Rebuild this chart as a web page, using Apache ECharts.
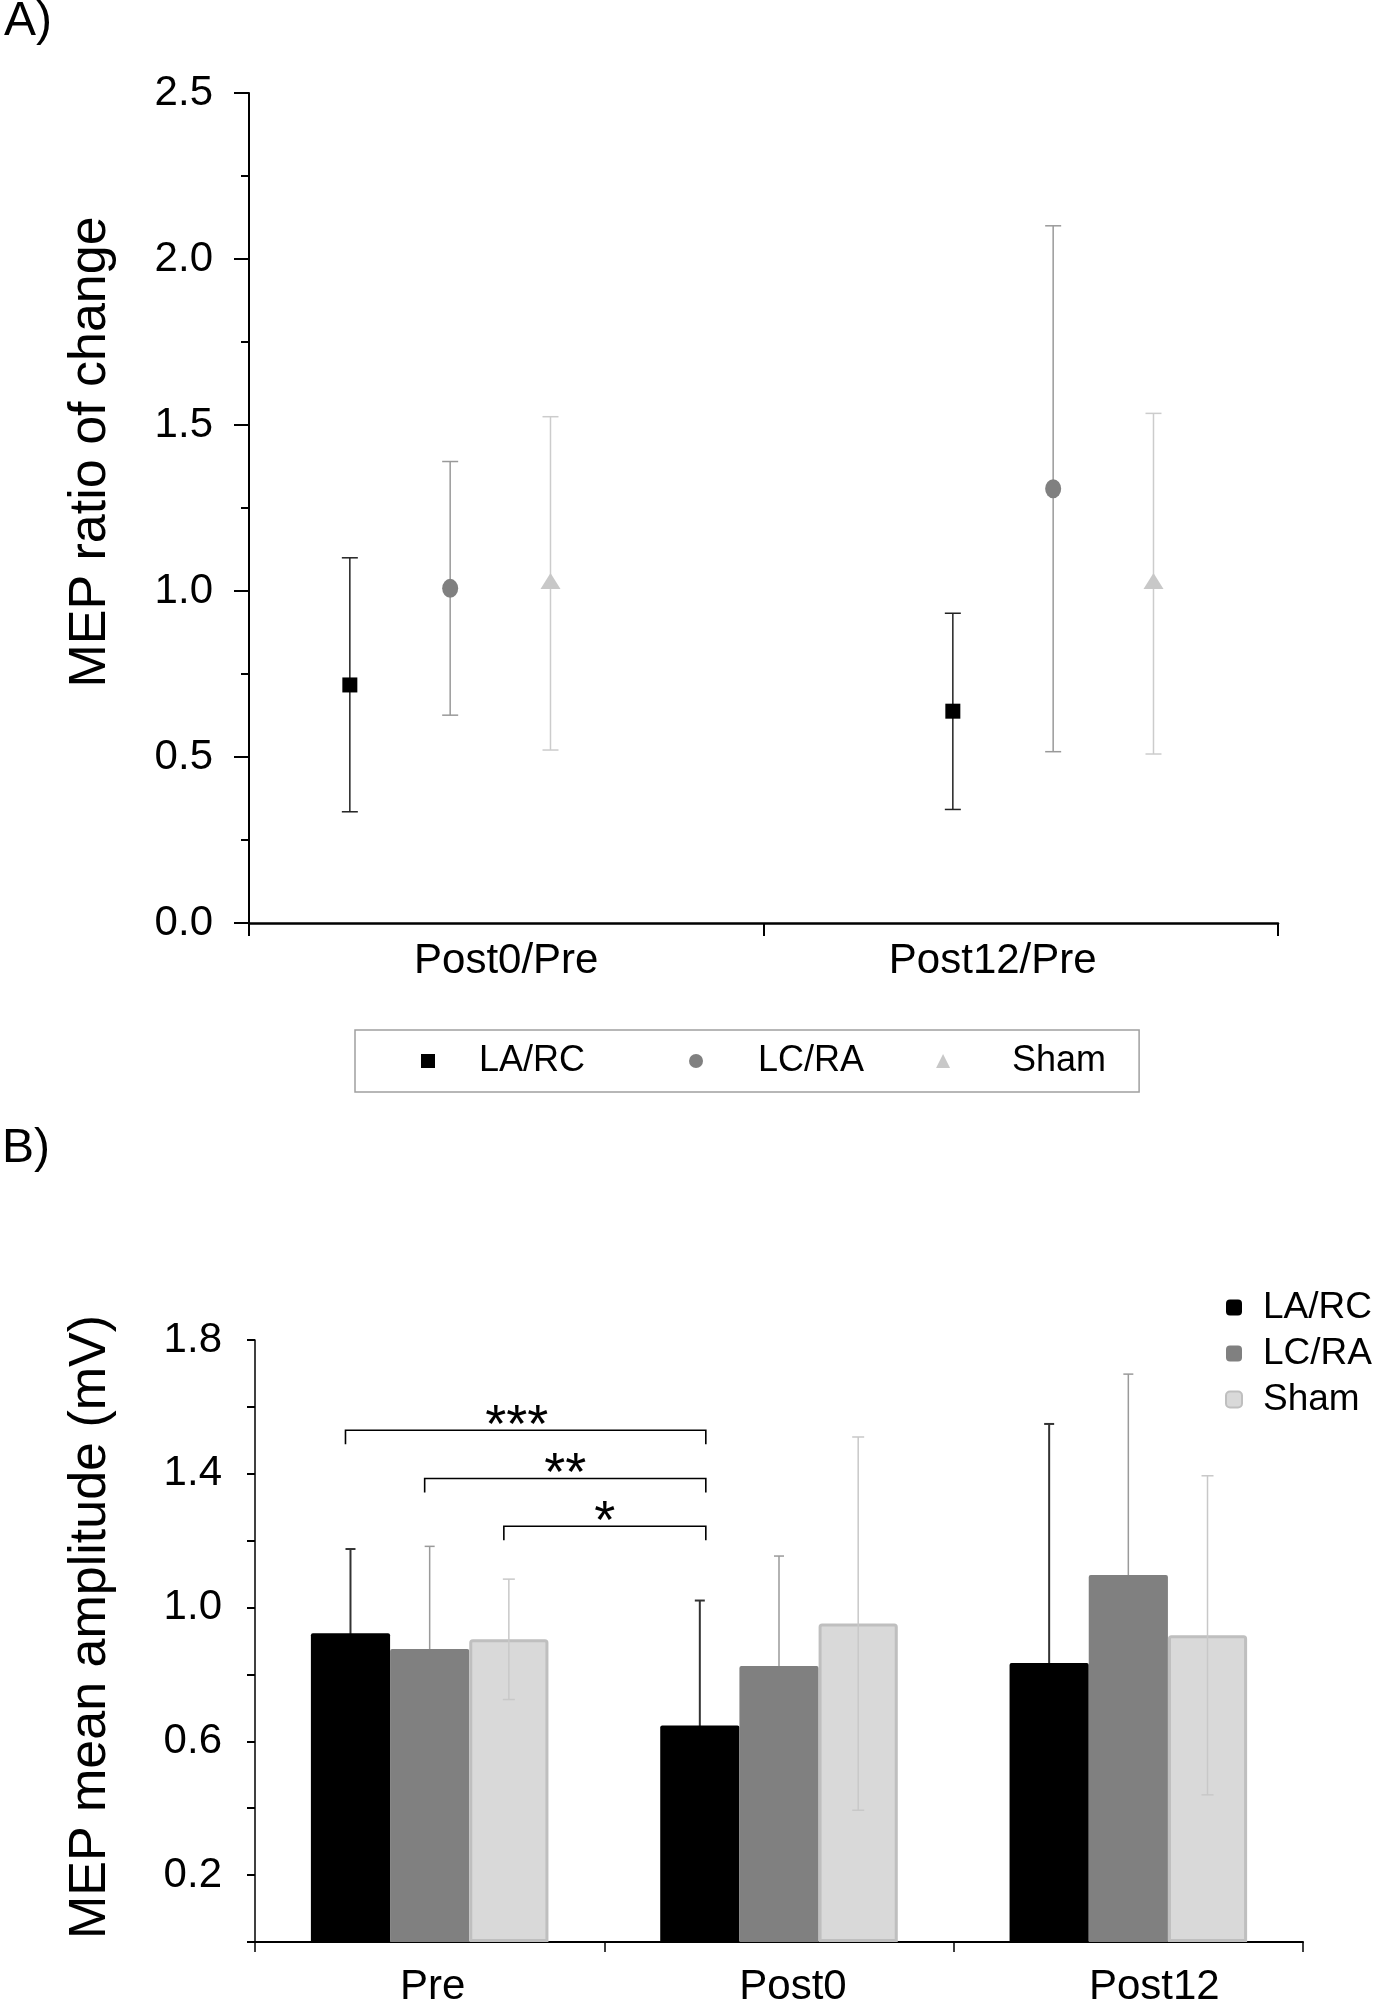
<!DOCTYPE html>
<html><head><meta charset="utf-8">
<script src="https://cdn.jsdelivr.net/npm/echarts@6/dist/echarts.min.js"></script>
<style>html,body{margin:0;padding:0;background:#fff}#c{width:1376px;height:2000px}</style>
</head><body><div id="c"></div>
<script>
// ---------- Panel A: MEP ratio of change ----------
const ratioCategories = ['Post0/Pre', 'Post12/Pre'];
const groupNames = ['LA/RC', 'LC/RA', 'Sham'];
const laRcRatio = [0.717, 0.638];
const laRcRatioLow = [0.335, 0.342];
const laRcRatioHigh = [1.100, 0.933];
const lcRaRatio = [1.008, 1.308];
const lcRaRatioLow = [0.626, 0.516];
const lcRaRatioHigh = [1.390, 2.100];
const shamRatio = [1.030, 1.030];
const shamRatioLow = [0.521, 0.509];
const shamRatioHigh = [1.525, 1.535];
const ratioTickLabels = ['0.0', '0.5', '1.0', '1.5', '2.0', '2.5'];

// ---------- Panel B: MEP mean amplitude ----------
const sessions = ['Pre', 'Post0', 'Post12'];
const laRcAmp = [0.923, 0.647, 0.834];
const laRcSD = [0.252, 0.374, 0.715];
const lcRaAmp = [0.876, 0.825, 1.097];
const lcRaSD = [0.307, 0.329, 0.601];
const shamAmp = [0.905, 0.952, 0.917];
const shamSD = [0.180, 0.558, 0.477];
const ampTickLabels = ['0.2', '0.6', '1.0', '1.4', '1.8'];
// significance brackets: Pre (group) vs Post0 LA/RC
const sigFromGroup = [0, 1, 2];
const sigLevels = [1.530, 1.386, 1.243];
const sigLabels = ['***', '**', '*'];

// ---------- styling / layout constants ----------
const FONT = 'Liberation Sans, Arial, Helvetica, sans-serif';
const groupShiftA = [-0.109, 0.063];
const spacingA = 0.195;
const markerColors = ['#000000', '#808080', '#c8c8c8'];
const errColorsA = ['#222222', '#999999', '#cccccc'];
const barColors = ['#000000', '#808080', '#d9d9d9'];
const errColorsB = ['#333333', '#9a9a9a', '#c8c8c8'];
const BAR_GAP = 0.32;
const sigTextShift = [-9, 0, 0];
const LBL = 42;

const ratioMeans = [laRcRatio, lcRaRatio, shamRatio];
const ratioLows = [laRcRatioLow, lcRaRatioLow, shamRatioLow];
const ratioHighs = [laRcRatioHigh, lcRaRatioHigh, shamRatioHigh];
const ampMeans = [laRcAmp, lcRaAmp, shamAmp];
const ampSDs = [laRcSD, lcRaSD, shamSD];

function xA(cat, g) { return cat + 0.5 + groupShiftA[cat] + (g - 1) * spacingA; }

function errRenderA(color, capHalf) {
  return function (params, api) {
    const x = api.value(0);
    const lo = api.coord([x, api.value(1)]);
    const hi = api.coord([x, api.value(2)]);
    const st = { stroke: color, lineWidth: 1.5 };
    return { type: 'group', children: [
      { type: 'line', shape: { x1: lo[0], y1: lo[1], x2: hi[0], y2: hi[1] }, style: st },
      { type: 'line', shape: { x1: lo[0] - capHalf, y1: lo[1], x2: lo[0] + capHalf, y2: lo[1] }, style: st },
      { type: 'line', shape: { x1: hi[0] - capHalf, y1: hi[1], x2: hi[0] + capHalf, y2: hi[1] }, style: st }
    ] };
  };
}

function barCenterX(api, cat, g) {
  const band = api.size([1, 0])[0];
  const bw = band * (1 - BAR_GAP) / 3;
  return api.coord([cat, 0])[0] + (g - 1) * bw;
}

function errRenderB(g, color, capHalf, width) {
  return function (params, api) {
    const cat = api.value(0);
    const x = barCenterX(api, cat, g);
    const yLo = api.coord([cat, api.value(1)])[1];
    const yHi = api.coord([cat, api.value(2)])[1];
    const st = { stroke: color, lineWidth: width };
    return { type: 'group', children: [
      { type: 'line', shape: { x1: x, y1: yLo, x2: x, y2: yHi }, style: st },
      { type: 'line', shape: { x1: x - capHalf, y1: yLo, x2: x + capHalf, y2: yLo }, style: st },
      { type: 'line', shape: { x1: x - capHalf, y1: yHi, x2: x + capHalf, y2: yHi }, style: st }
    ] };
  };
}

function bracketRender(params, api) {
  const x1 = barCenterX(api, api.value(0), api.value(1)) - 5;
  const x2 = barCenterX(api, api.value(2), api.value(3)) + 6;
  const y = api.coord([api.value(0), api.value(4)])[1];
  const drop = 14;
  const k = params.dataIndex;
  return { type: 'group', children: [
    { type: 'polyline', shape: { points: [[x1, y + drop], [x1, y], [x2, y], [x2, y + drop]] },
      style: { stroke: '#000', lineWidth: 1.6, fill: null } },
    { type: 'text', x: (x1 + x2) / 2 + sigTextShift[k], y: y - 3,
      style: { text: sigLabels[k], font: '54px ' + FONT, fill: '#000',
               align: 'center', verticalAlign: 'middle' } }
  ] };
}

const series = [];
// Panel A error bars + markers
const symbolsA = ['rect', 'circle', 'triangle'];
const symbolSizesA = [[15, 15], [16, 19], [20, 16]];
for (let g = 0; g < 3; g++) {
  series.push({
    type: 'custom', xAxisIndex: 0, yAxisIndex: 0, z: 1, silent: true,
    renderItem: errRenderA(errColorsA[g], 8),
    encode: { x: 0, y: [1, 2] },
    data: ratioCategories.map((c, i) => [xA(i, g), ratioLows[g][i], ratioHighs[g][i]])
  });
}
for (let g = 0; g < 3; g++) {
  series.push({
    name: groupNames[g], type: 'scatter', xAxisIndex: 0, yAxisIndex: 0, z: 3,
    symbol: symbolsA[g], symbolSize: symbolSizesA[g],
    itemStyle: { color: markerColors[g], opacity: 1 },
    data: ratioCategories.map((c, i) => [xA(i, g), ratioMeans[g][i]])
  });
}
// Panel B bars
for (let g = 0; g < 3; g++) {
  series.push({
    name: groupNames[g], type: 'bar', xAxisIndex: 1, yAxisIndex: 1, z: 2,
    barGap: '0%', barCategoryGap: (BAR_GAP * 100) + '%',
    itemStyle: g === 2 ? { color: barColors[g], borderColor: '#bfbfbf', borderWidth: 3, borderRadius: [2, 2, 0, 0] }
                       : { color: barColors[g], borderRadius: [2, 2, 0, 0] },
    data: ampMeans[g]
  });
}
// Panel B error bars (dark ones drawn behind the bars, Sham on top)
for (let g = 0; g < 3; g++) {
  series.push({
    type: 'custom', xAxisIndex: 1, yAxisIndex: 1, z: g === 2 ? 4 : 1, silent: true,
    renderItem: errRenderB(g, errColorsB[g], g === 2 ? 6 : 5, g === 0 ? 2 : 1.5),
    encode: { x: 0, y: [1, 2] },
    data: sessions.map((s, i) => [i, ampMeans[g][i] - ampSDs[g][i], ampMeans[g][i] + ampSDs[g][i]])
  });
}
// significance brackets
series.push({
  type: 'custom', xAxisIndex: 1, yAxisIndex: 1, z: 5, silent: true,
  renderItem: bracketRender,
  encode: { x: [0, 2], y: 4 },
  data: sigLevels.map((lv, k) => [0, sigFromGroup[k], 1, 0, lv])
});

const axisBlack = (w) => ({ show: true, lineStyle: { color: '#000', width: w } });

const option = {
  animation: false,
  backgroundColor: '#ffffff',
  textStyle: { fontFamily: FONT },
  graphic: [
    { type: 'text', left: 4, top: -2, style: { text: 'A)', font: '48px ' + FONT, fill: '#000' } },
    { type: 'text', left: 2, top: 1125, style: { text: 'B)', font: '48px ' + FONT, fill: '#000' } }
  ],
  legend: [
    {
      left: 355, top: 1030, orient: 'horizontal',
      padding: [11, 33, 11, 66], itemGap: 72, itemWidth: 14, itemHeight: 14,
      borderColor: '#a0a0a0', borderWidth: 1.5, selectedMode: false,
      textStyle: { fontSize: 36, lineHeight: 40, color: '#000', fontFamily: FONT },
      data: [
        { name: 'LA/RC', icon: 'rect', itemStyle: { color: markerColors[0] }, textStyle: { padding: [0, 32, 0, 39] } },
        { name: 'LC/RA', icon: 'circle', itemStyle: { color: markerColors[1] }, textStyle: { padding: [0, 0, 0, 50] } },
        { name: 'Sham', icon: 'triangle', itemStyle: { color: markerColors[2] }, textStyle: { padding: [0, 0, 0, 57] } }
      ]
    },
    {
      left: 1225, top: 1289, orient: 'vertical',
      padding: 0, itemGap: 9, itemWidth: 16, itemHeight: 16, selectedMode: false,
      textStyle: { fontSize: 37, lineHeight: 36, color: '#000', fontFamily: FONT, padding: [0, 0, 0, 16] },
      data: [
        { name: 'LA/RC', icon: 'roundRect', itemStyle: { color: barColors[0], borderWidth: 0 } },
        { name: 'LC/RA', icon: 'roundRect', itemStyle: { color: barColors[1], borderWidth: 0 } },
        { name: 'Sham', icon: 'roundRect', itemStyle: { color: barColors[2], borderColor: '#bfbfbf', borderWidth: 2 } }
      ]
    }
  ],
  grid: [
    { left: 249, top: 93, width: 1029, height: 830, containLabel: false, outerBoundsMode: 'none' },
    { left: 255, top: 1340, width: 1048, height: 602, containLabel: false, outerBoundsMode: 'none' }
  ],
  xAxis: [
    {
      type: 'value', gridIndex: 0, min: 0, max: 2, interval: 1,
      axisLine: axisBlack(2.5),
      axisTick: { show: true, inside: false, length: 13, lineStyle: { color: '#000', width: 2 }, customValues: [0, 1, 2] },
      splitLine: { show: false },
      axisLabel: {
        show: true, customValues: [0.5, 1.5], margin: 17, color: '#000', fontSize: LBL, lineHeight: LBL, fontFamily: FONT,
        formatter: function (v) { const i = Math.round(v - 0.5); return '{c' + i + '|' + ratioCategories[i] + '}'; },
        rich: {
          c0: { fontSize: LBL, lineHeight: LBL, fontFamily: FONT, color: '#000', padding: [0, 0, 0, 0] },
          c1: { fontSize: LBL, lineHeight: LBL, fontFamily: FONT, color: '#000', padding: [0, 56, 0, 0] }
        }
      }
    },
    {
      type: 'category', gridIndex: 1, data: sessions, boundaryGap: true,
      axisLine: axisBlack(2),
      axisTick: { show: true, inside: false, length: 10, lineStyle: { color: '#000', width: 1.5 } },
      splitLine: { show: false },
      axisLabel: {
        margin: 24, color: '#000', fontSize: LBL, lineHeight: LBL, fontFamily: FONT,
        formatter: function (v, i) { return '{s' + i + '|' + v + '}'; },
        rich: {
          s0: { fontSize: LBL, lineHeight: LBL, fontFamily: FONT, color: '#000', padding: [0, 0, 0, 6] },
          s1: { fontSize: LBL, lineHeight: LBL, fontFamily: FONT, color: '#000', padding: [0, 0, 0, 28] },
          s2: { fontSize: LBL, lineHeight: LBL, fontFamily: FONT, color: '#000', padding: [0, 0, 0, 52] }
        }
      }
    }
  ],
  yAxis: [
    {
      type: 'value', gridIndex: 0, min: 0, max: 2.5, interval: 0.5,
      name: 'MEP ratio of change', nameLocation: 'middle', nameRotate: 90, nameGap: 132,
      nameTextStyle: { fontSize: 52, color: '#000', fontFamily: FONT, padding: [0, 0, 0, 112] },
      axisLine: axisBlack(2),
      axisTick: { show: true, inside: false, length: 15, lineStyle: { color: '#000', width: 2 } },
      minorTick: { show: true, splitNumber: 2, length: 8, lineStyle: { color: '#000', width: 2 } },
      splitLine: { show: false }, minorSplitLine: { show: false },
      axisLabel: {
        margin: 36, color: '#000', fontSize: LBL, fontFamily: FONT,
        formatter: function (v) { const t = v.toFixed(1); return ratioTickLabels.indexOf(t) >= 0 ? t : ''; }
      }
    },
    {
      type: 'value', gridIndex: 1, min: 0, max: 1.8, interval: 0.2,
      name: 'MEP mean amplitude (mV)', nameLocation: 'middle', nameRotate: 90, nameGap: 138,
      nameTextStyle: { fontSize: 52, color: '#000', fontFamily: FONT, padding: [0, 0, 0, 28] },
      axisLine: axisBlack(1.5),
      axisTick: { show: true, inside: false, length: 8, lineStyle: { color: '#000', width: 2 } },
      splitLine: { show: false },
      axisLabel: {
        margin: 33, color: '#000', fontSize: LBL, fontFamily: FONT,
        formatter: function (v) { const t = v.toFixed(1); return ampTickLabels.indexOf(t) >= 0 ? t : ''; }
      }
    }
  ],
  series: series
};

const chart = echarts.init(document.getElementById('c'), null, { renderer: 'canvas', width: 1376, height: 2000 });
chart.setOption(option);
</script>
</body></html>
